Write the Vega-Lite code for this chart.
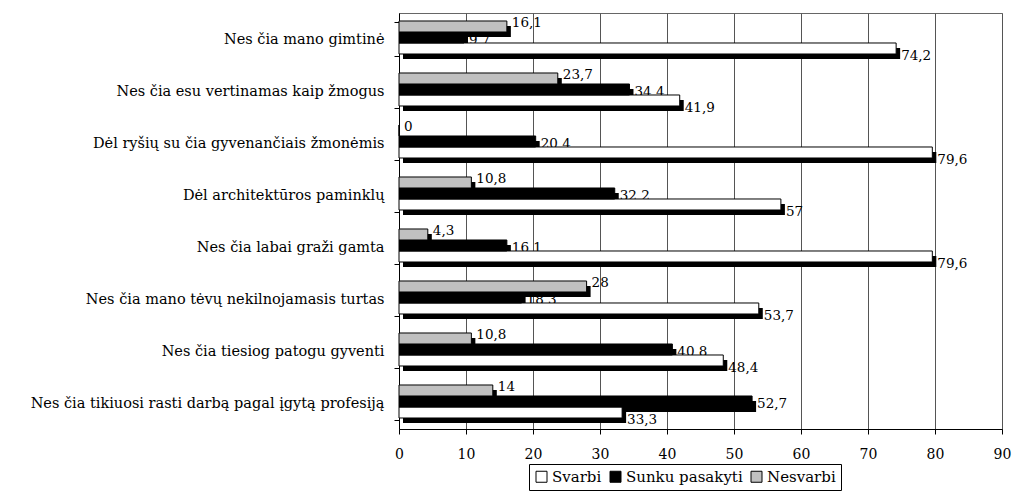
{
  "$schema": "https://vega.github.io/schema/vega-lite/v6.json",
  "autosize": {"type": "none"},
  "width": 603,
  "height": 416,
  "padding": {"left": 399, "top": 13, "right": 12, "bottom": 68},
  "background": "white",
  "config": {
    "locale": {"number": {"decimal": ",", "thousands": " ", "grouping": [3], "currency": ["", ""]}},
    "view": {"stroke": "#666", "strokeWidth": 1},
    "font": "DejaVu Serif",
    "axis": {"labelFont": "DejaVu Serif", "labelColor": "black", "domainColor": "black", "tickColor": "black"},
    "legend": {"labelFont": "DejaVu Serif"}
  },
  "data": {
    "values": [
      {"cat": "Nes čia mano gimtinė", "series": "Svarbi", "value": 74.2},
      {"cat": "Nes čia mano gimtinė", "series": "Sunku pasakyti", "value": 9.7},
      {"cat": "Nes čia mano gimtinė", "series": "Nesvarbi", "value": 16.1},
      {"cat": "Nes čia esu vertinamas kaip žmogus", "series": "Svarbi", "value": 41.9},
      {"cat": "Nes čia esu vertinamas kaip žmogus", "series": "Sunku pasakyti", "value": 34.4},
      {"cat": "Nes čia esu vertinamas kaip žmogus", "series": "Nesvarbi", "value": 23.7},
      {"cat": "Dėl ryšių su čia gyvenančiais žmonėmis", "series": "Svarbi", "value": 79.6},
      {"cat": "Dėl ryšių su čia gyvenančiais žmonėmis", "series": "Sunku pasakyti", "value": 20.4},
      {"cat": "Dėl ryšių su čia gyvenančiais žmonėmis", "series": "Nesvarbi", "value": 0},
      {"cat": "Dėl architektūros paminklų", "series": "Svarbi", "value": 57},
      {"cat": "Dėl architektūros paminklų", "series": "Sunku pasakyti", "value": 32.2},
      {"cat": "Dėl architektūros paminklų", "series": "Nesvarbi", "value": 10.8},
      {"cat": "Nes čia labai graži gamta", "series": "Svarbi", "value": 79.6},
      {"cat": "Nes čia labai graži gamta", "series": "Sunku pasakyti", "value": 16.1},
      {"cat": "Nes čia labai graži gamta", "series": "Nesvarbi", "value": 4.3},
      {"cat": "Nes čia mano tėvų nekilnojamasis turtas", "series": "Svarbi", "value": 53.7},
      {"cat": "Nes čia mano tėvų nekilnojamasis turtas", "series": "Sunku pasakyti", "value": 18.3},
      {"cat": "Nes čia mano tėvų nekilnojamasis turtas", "series": "Nesvarbi", "value": 28},
      {"cat": "Nes čia tiesiog patogu gyventi", "series": "Svarbi", "value": 48.4},
      {"cat": "Nes čia tiesiog patogu gyventi", "series": "Sunku pasakyti", "value": 40.8},
      {"cat": "Nes čia tiesiog patogu gyventi", "series": "Nesvarbi", "value": 10.8},
      {"cat": "Nes čia tikiuosi rasti darbą pagal įgytą profesiją", "series": "Svarbi", "value": 33.3},
      {"cat": "Nes čia tikiuosi rasti darbą pagal įgytą profesiją", "series": "Sunku pasakyti", "value": 52.7},
      {"cat": "Nes čia tikiuosi rasti darbą pagal įgytą profesiją", "series": "Nesvarbi", "value": 14}
    ]
  },
  "encoding": {
    "y": {
      "field": "cat", "type": "nominal", "sort": null,
      "scale": {"paddingInner": 0.365, "paddingOuter": 0.1825},
      "axis": {"title": null, "tickBand": "extent", "tickSize": 5, "labelFontSize": 14.5, "labelPadding": 10, "grid": false, "labelLimit": 400}
    },
    "x": {
      "field": "value", "type": "quantitative",
      "scale": {"domain": [0, 90], "nice": false},
      "axis": {"title": null, "values": [0, 10, 20, 30, 40, 50, 60, 70, 80, 90], "grid": true, "gridColor": "#555", "tickSize": 5, "labelFontSize": 14, "labelPadding": 13, "labelFlush": false}
    }
  },
  "resolve": {"scale": {"yOffset": "independent"}},
  "layer": [
    {
      "mark": {"type": "text", "align": "left", "baseline": "middle", "dx": 5, "dy": 2.5, "fontSize": 13.5, "font": "DejaVu Serif", "color": "black"},
      "encoding": {
        "yOffset": {"field": "series", "sort": ["Nesvarbi", "Sunku pasakyti", "Svarbi"], "scale": {"paddingInner": 0, "paddingOuter": 0, "range": [-1.5, 31.5]}},
        "text": {"field": "value", "type": "quantitative", "format": ".1~f"}
      }
    },
    {
      "mark": {"type": "bar", "fill": "black", "xOffset": 4, "x2Offset": 4},
      "encoding": {
        "yOffset": {"field": "series", "sort": ["Nesvarbi", "Sunku pasakyti", "Svarbi"], "scale": {"paddingInner": 0, "paddingOuter": 0, "range": [3.5, 36.5]}}
      }
    },
    {
      "mark": {"type": "bar", "stroke": "black", "strokeWidth": 1},
      "encoding": {
        "yOffset": {"field": "series", "sort": ["Nesvarbi", "Sunku pasakyti", "Svarbi"], "scale": {"paddingInner": 0, "paddingOuter": 0, "range": [-1.5, 31.5]}},
        "color": {
          "field": "series", "type": "nominal",
          "scale": {"domain": ["Svarbi", "Sunku pasakyti", "Nesvarbi"], "range": ["#ffffff", "#000000", "#c0c0c0"]},
          "legend": {"title": null, "orient": "none", "legendX": 130, "legendY": 451, "direction": "horizontal", "strokeColor": "black", "padding": 5, "symbolType": "square", "symbolSize": 121, "symbolStrokeColor": "black", "symbolStrokeWidth": 1, "labelFontSize": 15, "labelColor": "black", "columnPadding": 6, "labelOffset": 3}
        }
      }
    }
  ]
}
